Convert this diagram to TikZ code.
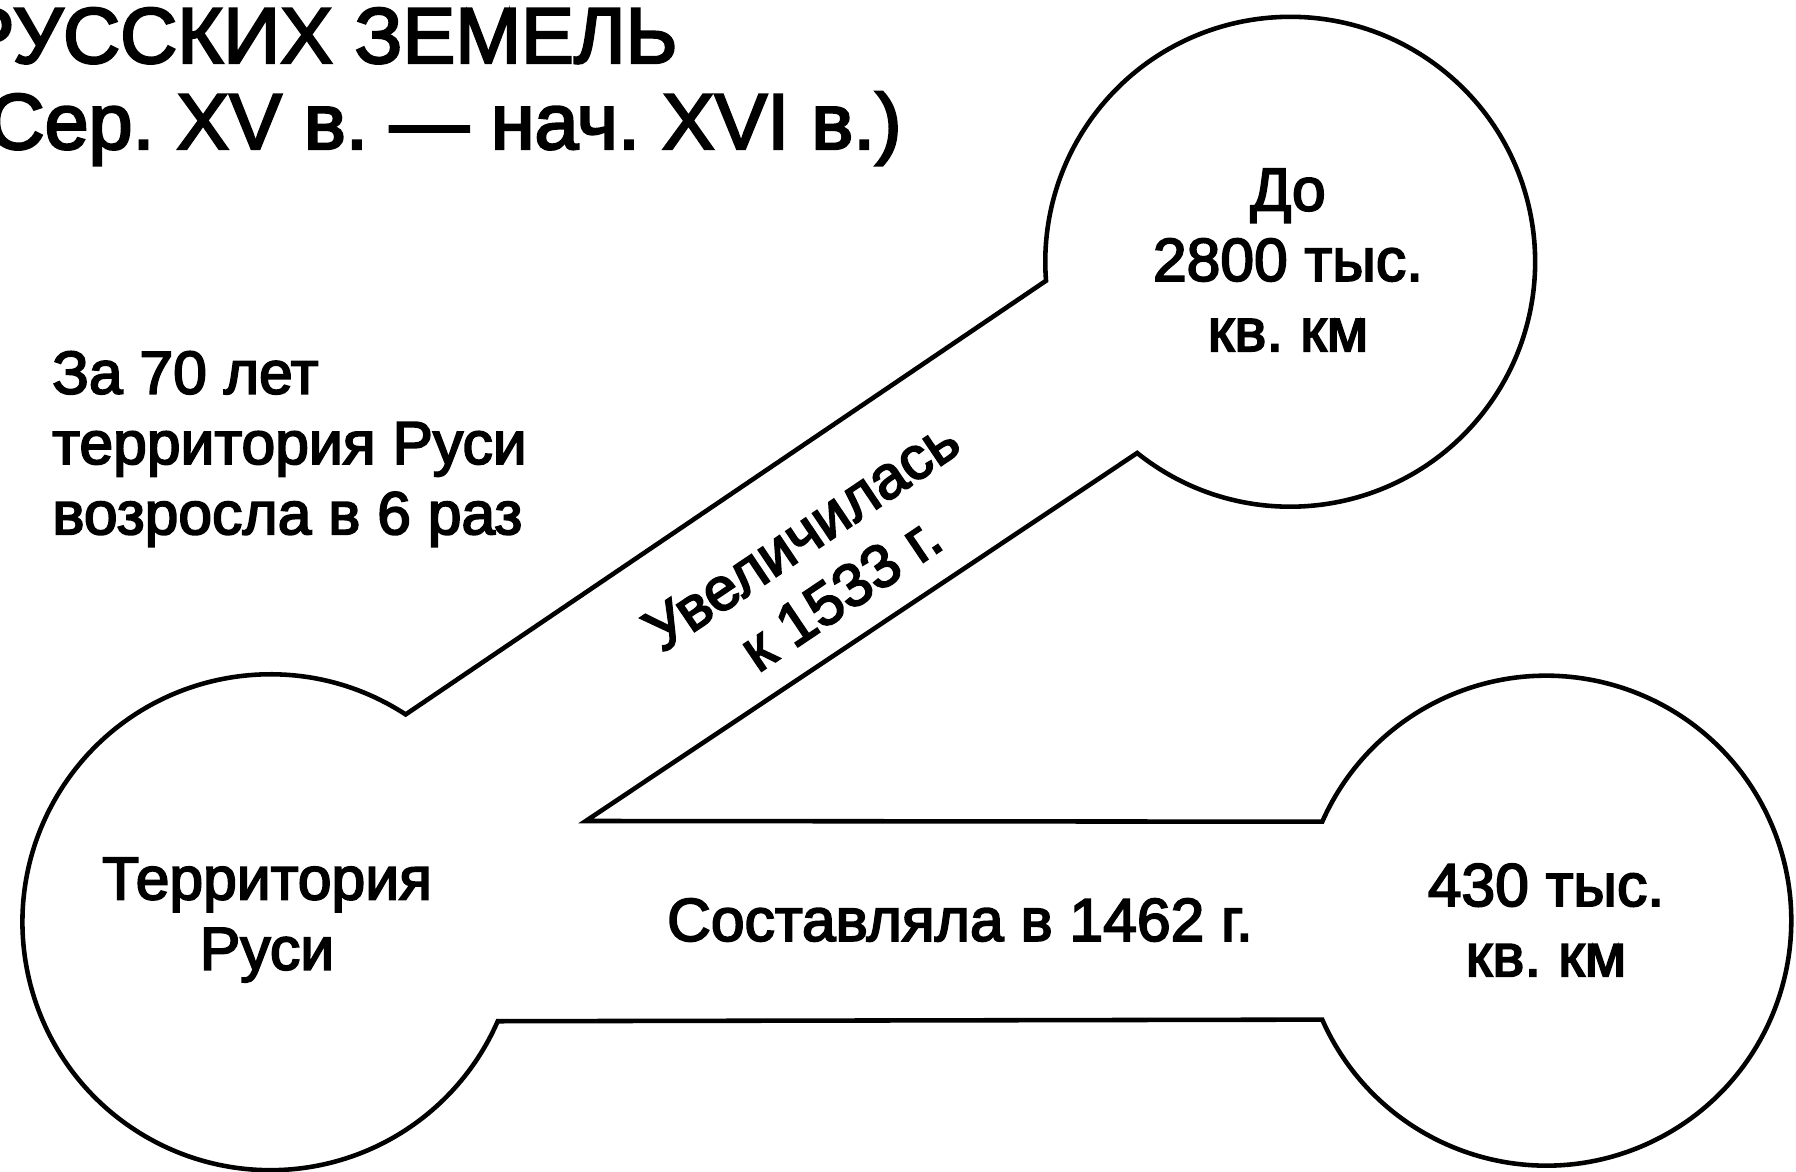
\documentclass[tikz,border=0pt]{standalone}
\usepackage{fontspec}
\setmainfont{Liberation Sans}
\newfontfamily\heavy{Liberation Sans}[RawFeature={embolden=3}]
\begin{document}
\frenchspacing
\begin{tikzpicture}[x=0.02cm,y=0.02cm,
  outline/.style={line width=2.6pt, line join=miter},
  ring/.style={circle, draw=none, inner sep=0pt, outer sep=0pt, align=center, font=\heavy\fontsize{34.5}{40}\selectfont},
  body/.style={inner sep=0pt, font=\heavy\fontsize{34.5}{40}\selectfont},
  ttl/.style={inner sep=0pt, font=\heavy\fontsize{45}{50}\selectfont}]
\fill[white] (0,0) rectangle (1796,1171);
\useasboundingbox (0,0) rectangle (1796,1171);

% circles
\node[ring, minimum size=9.92cm] (L) at (267,251) {Территория\\Руси};
\node[ring, minimum size=9.8cm] (R) at (1546,251) {430 тыс.\\кв. км};
\node[ring, minimum size=9.8cm] (T) at (1288,911) {До\\2800 тыс.\\кв. км};
\coordinate (C) at (585.8,350);

% outline of the whole figure
\draw[outline] (L.56.94) arc[start angle=56.94, end angle=336.47, radius=4.96cm]
  -- (R.-156.17) arc[start angle=-156.17, end angle=156.17, radius=4.9cm]
  -- (C) -- (T.-128.66) arc[start angle=-128.66, end angle=184.45, radius=4.9cm]
  -- cycle;

% texts
\node[body, anchor=north west, align=left] (note) at (52,820) {За 70 лет\\территория Руси\\возросла в 6 раз};
\node[body] (low) at (960,251) {Составляла в 1462 г.};
\node[body, rotate=33.94, align=center] (up) at (821,607) {Увеличилась\\к 1533 г.};

% title
\node[ttl, anchor=base east] (t1) at (678,1108) {РУССКИХ ЗЕМЕЛЬ};
\node[ttl, anchor=base east] (t2) at (902,1022) {Сер. XV в. — нач. XVI в.)};
\end{tikzpicture}
\end{document}
